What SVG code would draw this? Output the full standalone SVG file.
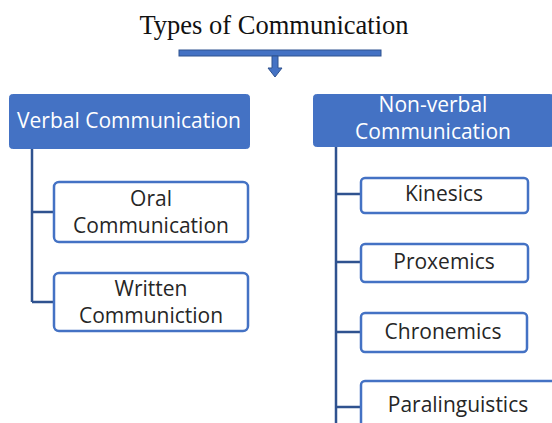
<svg xmlns="http://www.w3.org/2000/svg" width="552" height="423" viewBox="0 0 552 423">
<style>
.hdr{fill:#4472C4;stroke:#4472C4;stroke-width:1}
.box{fill:#ffffff;stroke:#4472C4;stroke-width:2.5}
.ht{font-family:"Open Sans","Liberation Sans",Arial,sans-serif;font-size:21px;fill:#ffffff;text-anchor:middle}
.bt{font-family:"Open Sans","Liberation Sans",Arial,sans-serif;font-size:21px;fill:#262626;text-anchor:middle}
.ln{stroke:#2F528F;stroke-width:2.5;fill:none}
</style>
<rect width="552" height="423" fill="#ffffff"/>
<g id="title">
<text x="274" y="34" font-family="Liberation Serif,'Times New Roman',serif" font-size="26.5" fill="#111111" text-anchor="middle">Types of Communication</text>
</g>
<g id="connectors">
<rect x="179" y="50" width="202" height="6" fill="#4472C4" stroke="#2F528F" stroke-width="1"/>
<polygon points="272,56 278,56 278,68 282,68 275,77 268,68 272,68" fill="#4472C4" stroke="#2F528F" stroke-width="1"/>
<path class="ln" d="M32,148 V302 M32,212 H54 M32,302 H54"/>
<path class="ln" d="M336,146 V423 M336,194 H361 M336,262 H361 M336,332 H361 M336,407 H361"/>
</g>
<g id="verbal">
<rect class="hdr" x="9.5" y="94.5" width="240" height="54" rx="3"/>
<text class="ht" x="129" y="128">Verbal Communication</text>
</g>
<g id="oral">
<rect class="box" x="54" y="182" width="194" height="60" rx="5"/>
<text class="bt" x="151" y="206">Oral</text>
<text class="bt" x="151" y="233">Communication</text>
</g>
<g id="written">
<rect class="box" x="54" y="273" width="194" height="58" rx="5"/>
<text class="bt" x="151" y="296">Written</text>
<text class="bt" x="151" y="323">Communiction</text>
</g>
<g id="nonverbal">
<rect class="hdr" x="313.5" y="94.5" width="240" height="52" rx="3"/>
<text class="ht" x="433" y="112">Non-verbal</text>
<text class="ht" x="433" y="139">Communication</text>
</g>
<g id="kinesics">
<rect class="box" x="361" y="178" width="167" height="35" rx="4"/>
<text class="bt" x="444" y="201">Kinesics</text>
</g>
<g id="proxemics">
<rect class="box" x="361" y="244" width="167" height="38" rx="4"/>
<text class="bt" x="444" y="269">Proxemics</text>
</g>
<g id="chronemics">
<rect class="box" x="361" y="313" width="166" height="39" rx="4"/>
<text class="bt" x="443" y="339">Chronemics</text>
</g>
<g id="paralinguistics">
<rect class="box" x="361" y="381" width="200" height="60" rx="4"/>
<text class="bt" x="458" y="412">Paralinguistics</text>
</g>
</svg>
